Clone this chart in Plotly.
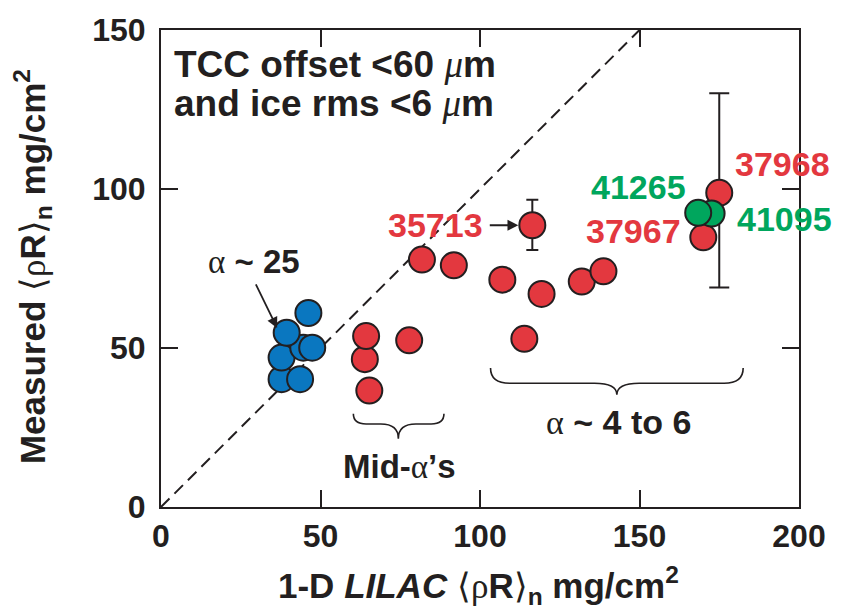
import plotly.graph_objects as go

# ---- data ----
blue_x = [37.8, 43.6, 37.8, 44.6, 47.4, 39.4, 46.2]
blue_y = [40.2, 40.2, 47.0, 50.1, 50.1, 54.8, 61.0]

red_x = [65.3, 63.9, 64.3, 77.8, 81.8, 91.8, 107.0, 113.9, 119.3, 131.9, 138.7, 170.0]
red_y = [36.6, 46.5, 53.75, 52.4, 77.8, 76.0, 71.5, 52.9, 67.0, 70.9, 74.1, 84.8]

shot_35713 = dict(x=[116.4], y=[88.6], plus=[8.0], minus=[7.8])
shot_37968 = dict(x=[175.0], y=[98.8], plus=[31.3], minus=[29.8])

green_x = [172.6, 168.4]
green_y = [92.3, 92.5]

diag_x = [0, 150]
diag_y = [0, 150]

x_ticks = [0, 50, 100, 150, 200]
y_ticks = [0, 50, 100, 150]

BLUE = "#0A77C0"
RED = "#E3383F"
GREEN = "#00A65D"
DARK = "#231F20"
FONT = "Liberation Sans, Arial, Helvetica, sans-serif"
SERIF = "Liberation Serif, Times New Roman, serif"

mk = lambda c: dict(size=26, color=c, line=dict(color=DARK, width=2))

fig = go.Figure()
fig.add_trace(go.Scatter(x=diag_x, y=diag_y, mode="lines",
                         line=dict(color=DARK, width=2, dash="12px,7px"), hoverinfo="skip"))
fig.add_trace(go.Scatter(x=blue_x, y=blue_y, mode="markers", marker=mk(BLUE)))
fig.add_trace(go.Scatter(x=red_x, y=red_y, mode="markers", marker=mk(RED)))
fig.add_trace(go.Scatter(x=shot_35713["x"], y=shot_35713["y"], mode="markers", marker=mk(RED),
                         error_y=dict(type="data", symmetric=False, array=shot_35713["plus"],
                                      arrayminus=shot_35713["minus"], color=DARK, thickness=2, width=6)))
fig.add_trace(go.Scatter(x=shot_37968["x"], y=shot_37968["y"], mode="markers", marker=mk(RED),
                         error_y=dict(type="data", symmetric=False, array=shot_37968["plus"],
                                      arrayminus=shot_37968["minus"], color=DARK, thickness=2, width=10)))
fig.add_trace(go.Scatter(x=green_x, y=green_y, mode="markers", marker=mk(GREEN)))


def brace(x0, x1, xc, yt, ym, ytip, de, dc):
    return (f"M {x0},{yt} Q {x0},{ym} {x0+de},{ym} L {xc-dc},{ym} "
            f"Q {xc},{ym} {xc},{ytip} Q {xc},{ym} {xc+dc},{ym} "
            f"L {x1-de},{ym} Q {x1},{ym} {x1},{yt}")


fig.add_shape(type="path", xref="x", yref="y",
              path=brace(60.3, 88.7, 74.4, 29.3, 26.1, 21.5, 4.0, 5.5),
              line=dict(color=DARK, width=1.6))
fig.add_shape(type="path", xref="x", yref="y",
              path=brace(103.3, 182.5, 142.9, 43.7, 38.9, 35.3, 6.0, 7.0),
              line=dict(color=DARK, width=1.6))

NS = f"font-family:{SERIF};font-weight:normal"
MU = f"<span style='{NS};font-style:italic'>μ</span>"
AL = f"<span style='{NS}'>α</span>"


def bf(size, color=DARK):
    return dict(family=FONT, size=size, color=color, weight="bold")


anns = [
    dict(x=0.0172, y=0.928, xref="paper", yref="paper", xanchor="left", yanchor="middle",
         showarrow=False, text=f"TCC offset &lt;60 {MU}m", font=bf(37)),
    dict(x=0.0172, y=0.846, xref="paper", yref="paper", xanchor="left", yanchor="middle",
         showarrow=False, text=f"and ice rms &lt;6 {MU}m", font=bf(37)),
    dict(x=29.3, y=77.2, showarrow=False, text=f"{AL} ~ 25", font=bf(33)),
    dict(x=36.4, y=56.3, text="", showarrow=True, ax=-22, ay=-45, arrowhead=2,
         arrowsize=1.2, arrowwidth=1.8, arrowcolor=DARK),
    dict(x=101.6, y=88.7, xanchor="right", showarrow=False, text="35713", font=bf(34, RED)),
    dict(x=112.0, y=88.6, text="", showarrow=True, ax=-30, ay=0, arrowhead=2,
         arrowsize=1.2, arrowwidth=1.8, arrowcolor=DARK),
    dict(x=149.8, y=100.6, showarrow=False, text="41265", font=bf(34, GREEN)),
    dict(x=194.7, y=107.9, showarrow=False, text="37968", font=bf(34, RED)),
    dict(x=195.3, y=90.7, showarrow=False, text="41095", font=bf(34, GREEN)),
    dict(x=148.0, y=86.7, showarrow=False, text="37967", font=bf(34, RED)),
    dict(x=74.9, y=12.8, showarrow=False, text=f"Mid-{AL}’s", font=bf(33)),
    dict(x=143.3, y=26.7, showarrow=False, text=f"{AL} ~ 4 to 6", font=bf(34)),
    dict(x=0.498, y=-0.221, xref="paper", yref="paper", showarrow=False,
         text=f"1-D <i>LILAC</i> <span style='{NS}'>⟨ρ</span>R"
              f"<span style='{NS}'>⟩</span><sub>n</sub> mg/cm<sup>2</sup>",
         font=bf(35)),
    dict(x=-0.243, y=0.504, xref="paper", yref="paper", showarrow=False, textangle=-90,
         text=f"Measured <span style='{NS}'>⟨ρ</span>R"
              f"<span style='{NS}'>⟩</span><sub>n</sub> mg/cm<sup>2</sup>",
         font=bf(35)),
]
for a in anns:
    fig.add_annotation(**a)

axis_common = dict(showline=True, linecolor=DARK, linewidth=2, mirror="ticks",
                   ticks="inside", ticklen=17, tickwidth=2, tickcolor=DARK,
                   showgrid=False, zeroline=False, tickfont=bf(32))
fig.update_xaxes(range=[0, 200], tickvals=x_ticks, ticklabelstandoff=0, **axis_common)
fig.update_yaxes(range=[0, 150], tickvals=y_ticks, ticklabelstandoff=7, **axis_common)

fig.update_layout(width=845, height=611, showlegend=False,
                  margin=dict(l=161, r=46, t=27, b=104),
                  plot_bgcolor="white", paper_bgcolor="white")

fig.write_html("out.html", config={"displayModeBar": False},
               post_script="document.body.style.margin='0px';")
